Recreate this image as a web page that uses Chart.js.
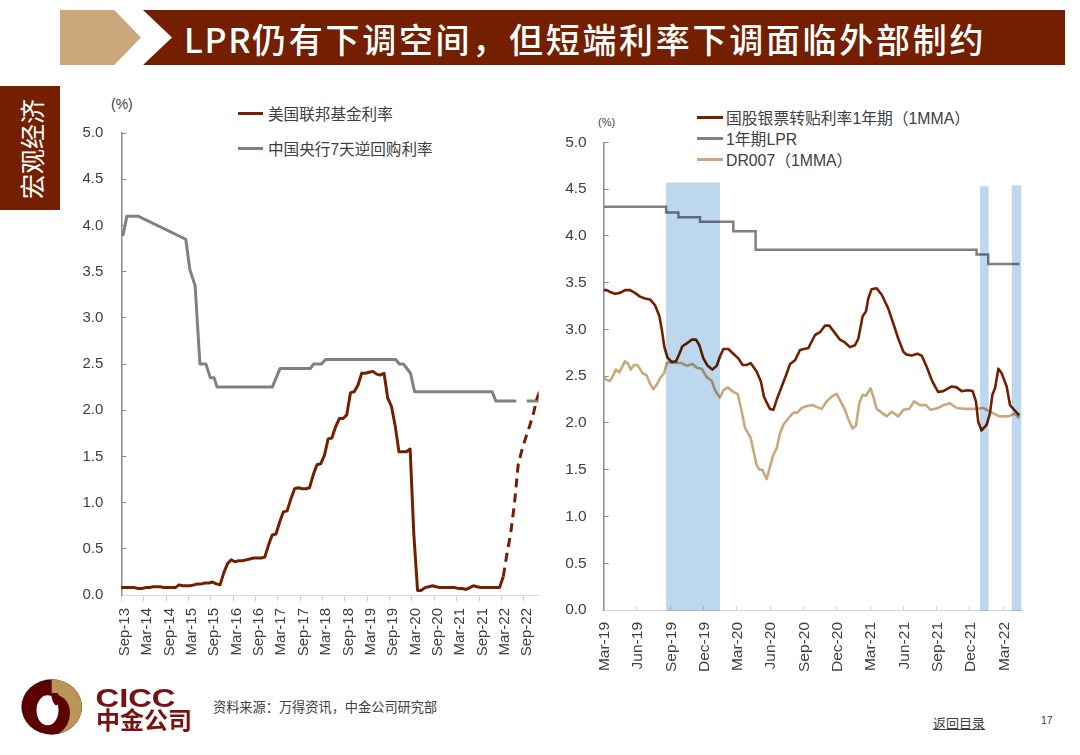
<!DOCTYPE html>
<html>
<head>
<meta charset="utf-8">
<script src="https://cdn.jsdelivr.net/npm/chart.js@4"></script>
<style>
  html, body { margin: 0; padding: 0; background: #fff; }
  body { width: 1080px; height: 755px; position: relative; overflow: hidden; font-family: "Liberation Sans", "Noto Sans CJK SC", sans-serif; color: #404040; }
  .abs { position: absolute; white-space: nowrap; }
  canvas { position: absolute; }
  .key { position: absolute; height: 3px; }
</style>
</head>
<body>
<!-- header -->
<div class="abs" style="left:60px;top:10px;width:81px;height:55px;background:#C9A97C;clip-path:polygon(0 0,67% 0,100% 50%,67% 100%,0 100%)"></div>
<div class="abs" style="left:143px;top:10px;width:922px;height:55px;background:#742000;clip-path:polygon(0 0,100% 0,100% 100%,0 100%,29px 50%)"></div>
<div class="abs" style="left:184px;top:14px;font:500 34px 'Noto Sans CJK SC';letter-spacing:2.7px;color:#fff;line-height:50px"><span style="letter-spacing:1.6px">LPR</span>仍有下调空间，但短端利率下调面临外部制约</div>
<div class="abs" style="left:0;top:86px;width:60px;height:124px;background:#742000"></div>
<div class="abs" style="left:31px;top:149px;font:400 25px 'Noto Sans CJK SC';color:#fff;transform:translate(-50%,-50%) rotate(-90deg)">宏观经济</div>

<!-- legends -->
<div class="abs" style="left:111px;top:96px;font-size:14px">(%)</div>
<div class="key" style="left:238px;top:112px;width:25px;background:#742000"></div>
<div class="abs" style="left:268px;top:102px;font-size:15.6px">美国联邦基金利率</div>
<div class="key" style="left:238px;top:147px;width:25px;background:#808080"></div>
<div class="abs" style="left:268px;top:137px;font-size:15.6px">中国央行7天逆回购利率</div>

<div class="abs" style="left:598px;top:116px;font-size:11px">(%)</div>
<div class="key" style="left:697px;top:116px;width:26px;background:#742000"></div>
<div class="abs" style="left:726px;top:106px;font-size:15.8px">国股银票转贴利率1年期（1MMA）</div>
<div class="key" style="left:697px;top:137px;width:26px;background:#808080"></div>
<div class="abs" style="left:726px;top:127px;font-size:15.8px">1年期LPR</div>
<div class="key" style="left:697px;top:158px;width:26px;background:#C9A97C"></div>
<div class="abs" style="left:726px;top:148px;font-size:15.8px">DR007（1MMA）</div>

<canvas id="fedChart" width="480" height="560" style="left:70px;top:120px"></canvas>
<canvas id="billChart" width="480" height="550" style="left:560px;top:130px"></canvas>

<!-- footer -->
<svg class="abs" style="left:15px;top:672px" width="185" height="66">
  <ellipse cx="36.7" cy="35" rx="30.3" ry="27.7" fill="#5A0000"/>
  <path d="M36.7 7.3 A30.3 27.7 0 0 1 43.3 62 A26 26 0 0 0 55 40 A18.5 18.5 0 0 0 36.7 21.7 Z" fill="#BB9457"/>
  <ellipse cx="32.5" cy="38.3" rx="11" ry="15" fill="#fff"/>
  <path d="M36 21 C37 27 37.5 31 41 33.5 L45 31 L43 21 Z" fill="#5A0000"/>
  <text x="80.5" y="35" font-family="Liberation Sans" font-weight="700" font-size="25" textLength="80" lengthAdjust="spacingAndGlyphs" fill="#7A1010">CICC</text>
  <text x="81" y="57" font-family="Noto Sans CJK SC" font-weight="700" font-size="24" fill="#7A1010">中金公司</text>
</svg>
<div class="abs" style="left:213px;top:697px;font-size:13.2px">资料来源：万得资讯，中金公司研究部</div>
<div class="abs" style="left:933px;top:713px;font-size:13px;text-decoration:underline">返回目录</div>
<div class="abs" style="left:1041px;top:714px;font-size:10.5px">17</div>

<script>
// left chart: months counted from Sep-13
var fedLabels = ['Sep-13','Mar-14','Sep-14','Mar-15','Sep-15','Mar-16','Sep-16','Mar-17','Sep-17','Mar-18','Sep-18','Mar-19','Sep-19','Mar-20','Sep-20','Mar-21','Sep-21','Mar-22','Sep-22'];
// one value per month, first one is just left of the axis
var fedValues = [0.08,0.08,0.08,0.08,0.08,0.07,0.07,0.08,0.08,0.09,0.09,0.09,0.08,0.08,0.08,0.08,0.11,0.10,0.10,0.10,0.11,0.12,0.12,0.13,0.13,0.14,0.12,0.11,0.24,0.34,0.38,0.36,0.37,0.37,0.38,0.39,0.40,0.40,0.40,0.41,0.54,0.65,0.66,0.79,0.90,0.91,1.04,1.15,1.16,1.15,1.15,1.16,1.30,1.41,1.42,1.51,1.69,1.70,1.82,1.91,1.91,1.95,2.19,2.20,2.27,2.40,2.40,2.41,2.42,2.39,2.38,2.40,2.13,2.04,1.83,1.55,1.55,1.55,1.58,0.65,0.05,0.05,0.08,0.09,0.10,0.09,0.08,0.08,0.08,0.08,0.08,0.07,0.07,0.06,0.08,0.10,0.09,0.08,0.08,0.08,0.08,0.08,0.08,0.20,0.45,0.67,0.99,1.41,1.57,1.70,1.82,1.95,2.12,2.23];
var repoMonths = [0,0.5,1.5,4.5,17.3,18.4,19.8,21.1,22.7,23.9,24.9,25.7,40.5,42.6,50.7,51.6,53.7,54.8,73.6,74.6,75.7,77.6,78.7,99.5,100.5,106,107,108.8,112];
var repoValues = [3.9,3.9,4.1,4.1,3.85,3.52,3.35,2.5,2.5,2.35,2.35,2.25,2.25,2.45,2.45,2.5,2.5,2.55,2.55,2.5,2.5,2.4,2.2,2.2,2.1,2.1,null,2.1,2.1];

// right chart: months counted from Mar-19
var billLabels = ['Mar-19','Jun-19','Sep-19','Dec-19','Mar-20','Jun-20','Sep-20','Dec-20','Mar-21','Jun-21','Sep-21','Dec-21','Mar-22'];
var billMonths = [0,0.27,0.57,1.02,1.47,1.92,2.37,2.82,3.27,3.72,4.17,4.62,5.02,5.23,5.47,5.74,6.13,6.52,6.82,7.09,7.48,7.93,8.32,8.62,8.98,9.37,9.79,10.18,10.48,10.78,11.23,11.68,12.13,12.52,12.88,13.24,13.78,14.17,14.44,14.68,14.98,15.29,15.59,16.04,16.43,16.79,17.24,17.69,18.44,19.04,19.49,19.94,20.33,20.84,21.29,21.74,22.19,22.64,22.94,23.33,23.63,23.84,24.14,24.59,25.05,25.65,26.1,26.55,27,27.3,27.75,28.26,28.65,29.1,29.55,29.85,30.15,30.6,31.35,31.8,32.25,32.85,33.24,33.54,33.75,34.05,34.5,34.8,35.02,35.26,35.56,35.86,36.31,36.61,37.06,37.45];
var billValues = [3.42,3.42,3.4,3.38,3.39,3.42,3.42,3.39,3.35,3.33,3.32,3.26,3.14,3,2.81,2.7,2.65,2.66,2.74,2.82,2.85,2.89,2.89,2.83,2.69,2.61,2.57,2.61,2.71,2.79,2.79,2.74,2.69,2.62,2.62,2.64,2.55,2.44,2.28,2.22,2.15,2.14,2.25,2.39,2.51,2.63,2.67,2.78,2.8,2.94,2.97,3.04,3.04,2.96,2.89,2.86,2.81,2.83,2.9,3.14,3.19,3.33,3.43,3.44,3.37,3.22,3.06,2.9,2.76,2.73,2.72,2.74,2.72,2.6,2.46,2.39,2.33,2.34,2.39,2.38,2.34,2.35,2.34,2.23,2.01,1.92,1.98,2.1,2.3,2.37,2.58,2.53,2.39,2.19,2.13,2.08];
var lprMonths = [0,5.62,6.73,8.68,11.68,13.69,33.6,34.65,37.45];
var lprValues = [4.31,4.25,4.2,4.15,4.05,3.85,3.8,3.7,3.7];
var drMonths = [0,0.27,0.57,0.87,1.08,1.41,1.92,2.22,2.43,2.73,3.03,3.51,3.87,4.17,4.47,4.83,5.14,5.44,5.68,6.13,6.58,7.03,7.48,8.02,8.38,8.83,9.28,9.73,10.03,10.48,10.78,11.17,11.68,12.07,12.37,12.73,13.24,13.48,13.78,14.02,14.29,14.68,14.98,15.29,15.59,15.89,16.19,16.64,17.09,17.45,17.84,18.29,18.83,19.19,19.64,20.09,20.54,20.99,21.35,21.74,22.04,22.43,22.73,23.03,23.33,23.63,24.05,24.35,24.59,25.05,25.5,25.95,26.55,27,27.54,27.96,28.5,29.04,29.46,30.15,30.6,31.2,31.8,32.55,33.6,34.2,34.8,35.65,36.46,37.06,37.45];
var drValues = [2.49,2.46,2.45,2.51,2.57,2.54,2.66,2.63,2.57,2.62,2.62,2.53,2.51,2.42,2.36,2.42,2.49,2.53,2.64,2.65,2.64,2.64,2.61,2.63,2.59,2.58,2.49,2.45,2.35,2.27,2.35,2.38,2.33,2.31,2.16,1.95,1.84,1.71,1.55,1.5,1.5,1.4,1.53,1.66,1.73,1.89,1.98,2.05,2.11,2.11,2.16,2.18,2.19,2.17,2.15,2.23,2.28,2.31,2.23,2.14,2.04,1.94,1.97,2.21,2.3,2.29,2.37,2.26,2.15,2.11,2.07,2.12,2.07,2.14,2.15,2.23,2.19,2.19,2.14,2.16,2.19,2.21,2.16,2.15,2.15,2.16,2.12,2.07,2.07,2.1,2.05];
// shaded periods
var bandStart = [5.62,33.9,36.76];
var bandEnd = [10.48,34.68,37.63];
var bandTop = [4.57,4.53,4.54];

var BROWN = '#742000', GRAY = '#808080', TAN = '#C9A97C';
var DASH_FROM = 103; // forecast part of the fed funds line

function toPoints(xs, ys) {
    return xs.map(function (x, i) { return { x: x, y: ys[i] }; });
}

function yAxis(labelWidth, fontSize, labelGap) {
    return {
        min: 0,
        max: 5,
        afterFit: function (scale) {
            scale.width = labelWidth;
            scale.paddingTop = 0;
            scale.paddingBottom = 0;
        },
        border: { color: '#8c8c8c', width: 1.5 },
        grid: { drawOnChartArea: false, tickLength: -5, color: '#8c8c8c' },
        ticks: {
            stepSize: 0.5,
            padding: labelGap,
            color: '#404040',
            font: { family: 'Liberation Sans', size: fontSize },
            callback: function (v) { return v.toFixed(1); }
        }
    };
}

function xAxis(max, step, labels, axisHeight, fontSize, tickLen, labelGap, labelShift) {
    return {
        type: 'linear',
        min: 0,
        max: max,
        afterFit: function (scale) {
            scale.height = axisHeight;
            scale.paddingLeft = 0;
            scale.paddingRight = 0;
        },
        border: { color: '#d9d9d9', width: 1 },
        grid: { drawOnChartArea: false, tickLength: tickLen, color: '#d0d0d0' },
        ticks: {
            stepSize: step,
            includeBounds: false,
            autoSkip: false,
            minRotation: 90,
            maxRotation: 90,
            padding: labelGap,
            labelOffset: labelShift,
            color: '#404040',
            font: { family: 'Liberation Sans', size: fontSize },
            callback: function (v) { return labels[v / step]; }
        }
    };
}

var bandPlugin = {
    id: 'bands',
    afterDatasetsDraw: function (chart) {
        var ctx = chart.ctx, x = chart.scales.x, y = chart.scales.y;
        ctx.save();
        ctx.globalCompositeOperation = 'multiply';
        ctx.fillStyle = '#BDD7EE';
        bandStart.forEach(function (start, i) {
            var left = x.getPixelForValue(start);
            var top = y.getPixelForValue(bandTop[i]);
            ctx.fillRect(left, top, x.getPixelForValue(bandEnd[i]) - left, y.getPixelForValue(0) - top + 1);
        });
        ctx.restore();
    }
};

new Chart(document.getElementById('fedChart').getContext('2d'), {
    type: 'line',
    data: {
        datasets: [{
            label: '美国联邦基金利率',
            data: fedValues.map(function (v, i) { return { x: i - 0.5, y: v }; }),
            borderColor: BROWN,
            borderWidth: 3,
            borderJoinStyle: 'round',
            pointRadius: 0,
            segment: {
                borderDash: function (ctx) { return ctx.p0DataIndex >= DASH_FROM ? [9, 6] : undefined; }
            }
        }, {
            label: '中国央行7天逆回购利率',
            data: toPoints(repoMonths, repoValues),
            borderColor: GRAY,
            borderWidth: 3,
            borderJoinStyle: 'round',
            pointRadius: 0
        }]
    },
    options: {
        responsive: false,
        animation: false,
        layout: { padding: { top: 13, right: 11.3, left: 0, bottom: 0 } },
        plugins: { legend: { display: false }, tooltip: { enabled: false } },
        scales: {
            x: xAxis(112, 6, fedLabels, 85, 15, 6, 7, 3.5),
            y: yAxis(51.3, 15, 23)
        }
    }
});

new Chart(document.getElementById('billChart').getContext('2d'), {
    type: 'line',
    data: {
        datasets: [{
            label: '国股银票转贴利率1年期（1MMA）',
            data: toPoints(billMonths, billValues),
            borderColor: BROWN,
            borderWidth: 2.6,
            borderJoinStyle: 'round',
            pointRadius: 0
        }, {
            label: '1年期LPR',
            data: toPoints(lprMonths, lprValues),
            borderColor: GRAY,
            borderWidth: 2.5,
            stepped: true,
            pointRadius: 0
        }, {
            label: 'DR007（1MMA）',
            data: toPoints(drMonths, drValues),
            borderColor: TAN,
            borderWidth: 2.6,
            borderJoinStyle: 'round',
            pointRadius: 0
        }]
    },
    plugins: [bandPlugin],
    options: {
        responsive: false,
        animation: false,
        layout: { padding: { top: 12.3, right: 19, left: 0, bottom: 0 } },
        plugins: { legend: { display: false }, tooltip: { enabled: false } },
        scales: {
            x: xAxis(37.6, 3, billLabels, 70, 15.5, -4, 16, 1),
            y: yAxis(43.7, 15.5, 22)
        }
    }
});
</script>
</body>
</html>
